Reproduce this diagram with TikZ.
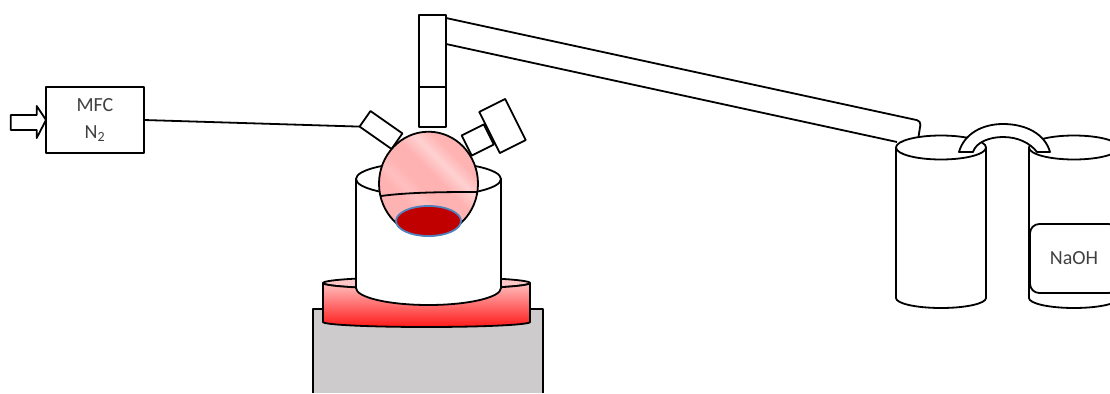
\documentclass[tikz,border=0pt]{standalone}
\usepackage{fontspec}
\setmainfont{Carlito}
\usetikzlibrary{positioning}
\definecolor{labelgray}{HTML}{404040}
\definecolor{standgray}{HTML}{CDCBCB}
\definecolor{liquidred}{HTML}{C00000}
\definecolor{liquidblue}{HTML}{4F81BD}
\pgfdeclarehorizontalshading{flaskpink}{100bp}{color(0bp)=(red!30);color(36bp)=(red!30);color(41bp)=(red!25);color(46bp)=(red!30);color(55bp)=(red!30);color(62bp)=(red!18);color(69bp)=(red!30);color(100bp)=(red!28)}

\begin{document}
\begin{tikzpicture}[x=0.75pt,y=-0.75pt,line width=1.35pt,line join=round]
\tikzstyle{B}=[draw,fill=white,inner sep=0pt,outer sep=0pt,align=center,text=labelgray,font=\fontsize{15}{20}\selectfont]
\tikzstyle{tube}=[draw,fill=white]
\clip (0,0) rectangle (1110,393);
\draw[fill=standgray] (313,393) -- (313,309) -- (543,309) -- (543,393);
\draw[fill=red!22] (426.5,283) ellipse [x radius=103.5,y radius=6];
\draw[top color=red!25,bottom color=red!90!white] (323,283) arc[start angle=180,end angle=0,x radius=103.5,y radius=6] -- (530,322) arc[start angle=0,end angle=180,x radius=103.5,y radius=5] -- cycle;
\draw[tube] (356,179) -- (356,288) arc[start angle=180,end angle=0,x radius=72.5,y radius=17] -- (501,179);
\draw[tube] (428.5,179) ellipse [x radius=72.5,y radius=17];
\node[B,minimum width=29.25pt,minimum height=14.25pt,rotate=-35] (necka) at (381,130) {};
\node[B,minimum width=18.5pt,minimum height=16.9pt,rotate=26.6] (neckb) at (477.75,140) {};
\node[B,minimum width=21.75pt,minimum height=34.5pt,rotate=26.6] (neckc) at (502.5,126) {};
\node[B,minimum width=20.25pt,minimum height=54pt,anchor=north] (coltop) at (432.5,15) {};
\node[B,minimum width=20.25pt,minimum height=30pt,below=0pt of coltop] (colbot) {};
\shade[shading=flaskpink,shading angle=45] (428.5,183.7) ellipse [x radius=49.5,y radius=52];
\draw (428.5,183.7) ellipse [x radius=49.5,y radius=52];
\draw (381,196) .. controls (410,192) and (450,192) .. (477,192);
\draw[fill=liquidred,draw=liquidblue] (428.5,221) ellipse [x radius=32.5,y radius=15];
\node[B,minimum width=73.5pt,minimum height=49.5pt,anchor=north west] (mfc) at (46,87) {MFC\\N\textsubscript{2}};
\coordinate (inleta) at (10.7,115);
\draw[tube] (mfc.west) -- (36.7,106) -- (36.7,115) -- (inleta) -- (10.7,130) -- (36.7,130) -- (36.7,138) -- cycle;
\draw (mfc.east) -- (necka.south west);
\coordinate (arma) at (446,18);
\coordinate (armb) at (446,44);
\coordinate (armc) at (921,121);
\coordinate (armd) at (918,140);
\coordinate (arme) at (897,142);
\draw[rounded corners=3pt] (arma) -- (armc) -- (armd);
\draw (armb) -- (arme);
\draw[tube] (896,147.5) -- (896,298) arc[start angle=180,end angle=0,x radius=45,y radius=10] -- (986,147.5);
\draw[tube] (941,147.5) ellipse [x radius=45,y radius=12];
\draw[tube] (1029,147.5) -- (1029,298) arc[start angle=180,end angle=0,x radius=45,y radius=10] -- (1119,147.5);
\draw[tube] (1074,147.5) ellipse [x radius=45,y radius=12];
\node[B,rounded corners=7pt,minimum width=66pt,minimum height=51.75pt,anchor=north west] (naoh) at (1030,224) {NaOH};
\draw[tube] (959,152) .. controls (964,134) and (982,124) .. (1003,124) .. controls (1026,124) and (1045,134) .. (1050,152) -- (1037,152) .. controls (1030,143) and (1018,137) .. (1003,137) .. controls (990,137) and (976,142) .. (973,152) -- cycle;
\end{tikzpicture}
\end{document}
